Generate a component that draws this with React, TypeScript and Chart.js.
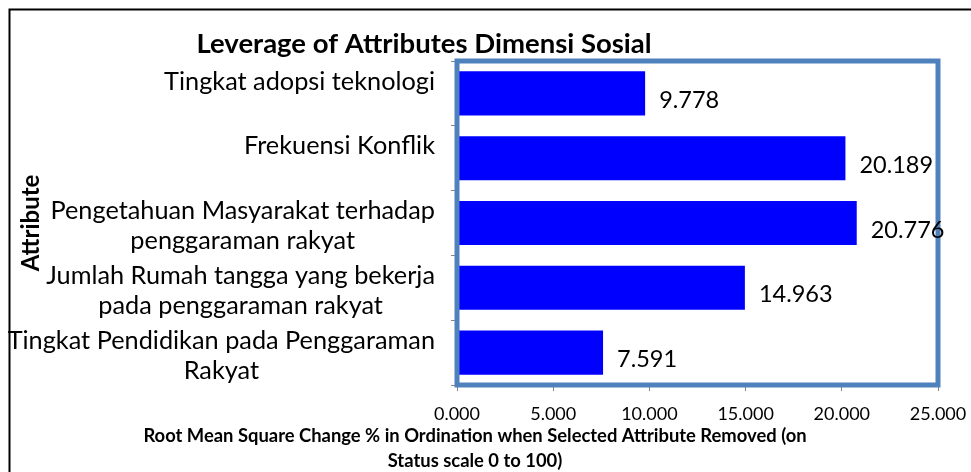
import React, { useEffect, useRef } from "react";
import { Chart, registerables } from "chart.js";

Chart.register(...registerables);

const categories: string[][] = [
  ["Tingkat adopsi teknologi"],
  ["Frekuensi Konflik"],
  ["Pengetahuan Masyarakat terhadap", "penggaraman rakyat"],
  ["Jumlah Rumah tangga yang bekerja", "pada penggaraman rakyat"],
  ["Tingkat Pendidikan pada Penggaraman", "Rakyat"],
];
const values: number[] = [9.778, 20.189, 20.776, 14.963, 7.591];
const xMin = 0;
const xMax = 25;
const xStep = 5;
const chartTitle = "Leverage of Attributes Dimensi Sosial";
const xTitle: string[] = [
  "Root Mean Square Change % in Ordination when Selected Attribute Removed (on",
  "Status scale 0 to 100)",
];
const yTitle = "Attribute";

const FONT = "Lato, 'Open Sans', sans-serif";

const decorPlugin = {
  id: "decor",
  afterDraw(chart: any) {
    const { ctx, chartArea } = chart;
    const yScale = chart.scales.y;
    ctx.save();
    ctx.strokeStyle = "#000";
    ctx.lineWidth = 2;
    ctx.strokeRect(9.5, 9.5, chart.width + 20, chart.height + 20);

    ctx.strokeStyle = "#4F81BD";
    ctx.lineWidth = 5;
    ctx.strokeRect(
      chartArea.left,
      chartArea.top,
      chartArea.right - chartArea.left,
      chartArea.bottom - chartArea.top
    );

    ctx.fillStyle = "#000";
    ctx.font = `bold 27.5px ${FONT}`;
    ctx.textAlign = "center";
    ctx.textBaseline = "middle";
    ctx.fillText(chartTitle, 424, 44);

    ctx.font = `25.3px ${FONT}`;
    const lineH = 30;
    categories.forEach((lines, i) => {
      const cy = yScale.getPixelForValue(i);
      const widths = lines.map((l) => ctx.measureText(l).width);
      const bw = Math.max(...widths);
      const right = chartArea.left - 22;
      const cx = right - bw / 2;
      const off = lines.length === 1 ? -12 : 3;
      const start = cy + off - ((lines.length - 1) * lineH) / 2;
      lines.forEach((l, j) => {
        ctx.textAlign = "center";
        ctx.fillText(l, cx, start + j * lineH);
      });
    });

    ctx.font = `23.5px ${FONT}`;
    ctx.textAlign = "left";
    const meta = chart.getDatasetMeta(0);
    meta.data.forEach((bar: any, i: number) => {
      ctx.fillText(values[i].toFixed(3), bar.x + 14, bar.y + 7);
    });

    ctx.font = `bold 18.4px ${FONT}`;
    ctx.textAlign = "center";
    xTitle.forEach((l, j) => {
      ctx.fillText(l, 475, 436 + j * 25);
    });

    ctx.save();
    ctx.translate(31, 223);
    ctx.rotate(-Math.PI / 2);
    ctx.font = `bold 24px ${FONT}`;
    ctx.fillText(yTitle, 0, 0);
    ctx.restore();

    ctx.restore();
  },
};

export default function App() {
  const ref = useRef<HTMLCanvasElement | null>(null);
  useEffect(() => {
    if (!ref.current) return;
    const chart = new Chart(ref.current, {
      type: "bar",
      data: {
        labels: categories.map((c) => c.join(" ")),
        datasets: [
          {
            data: values,
            backgroundColor: "#0000FF",
            borderWidth: 0,
            barPercentage: 0.68,
            categoryPercentage: 1,
          },
        ],
      },
      options: {
        indexAxis: "y",
        responsive: false,
        animation: false,
        layout: { autoPadding: false, padding: { left: 0, top: 61, right: 33, bottom: 0 } },
        plugins: {
          legend: { display: false },
          title: { display: false },
          tooltip: { enabled: false },
        },
        scales: {
          x: {
            min: xMin,
            max: xMax,
            ticks: {
              stepSize: xStep,
              callback: (v: any) => Number(v).toFixed(3),
              font: { family: FONT, size: 18 },
              color: "#000",
              padding: 12,
              maxRotation: 0,
            },
            grid: {
              drawOnChartArea: false,
              drawTicks: true,
              tickLength: 6,
              color: "#868686",
            },
            border: { display: true, color: "#868686" },
            afterFit: (s: any) => {
              s.height = 87;
              s.paddingLeft = 0;
              s.paddingRight = 0;
            },
          },
          y: {
            ticks: { display: false },
            grid: {
              drawOnChartArea: false,
              drawTicks: true,
              tickLength: 6,
              color: "#868686",
              offset: true,
            },
            border: { display: true, color: "#868686" },
            afterFit: (s: any) => {
              s.width = 457;
              s.paddingTop = 0;
              s.paddingBottom = 0;
            },
          },
        },
      },
      plugins: [decorPlugin],
    });
    return () => chart.destroy();
  }, []);
  return (
    <div style={{ position: "fixed", left: 0, top: 0, width: 971, height: 472, background: "#fff" }}>
      <canvas ref={ref} width={971} height={472} style={{ display: "block" }} />
    </div>
  );
}
